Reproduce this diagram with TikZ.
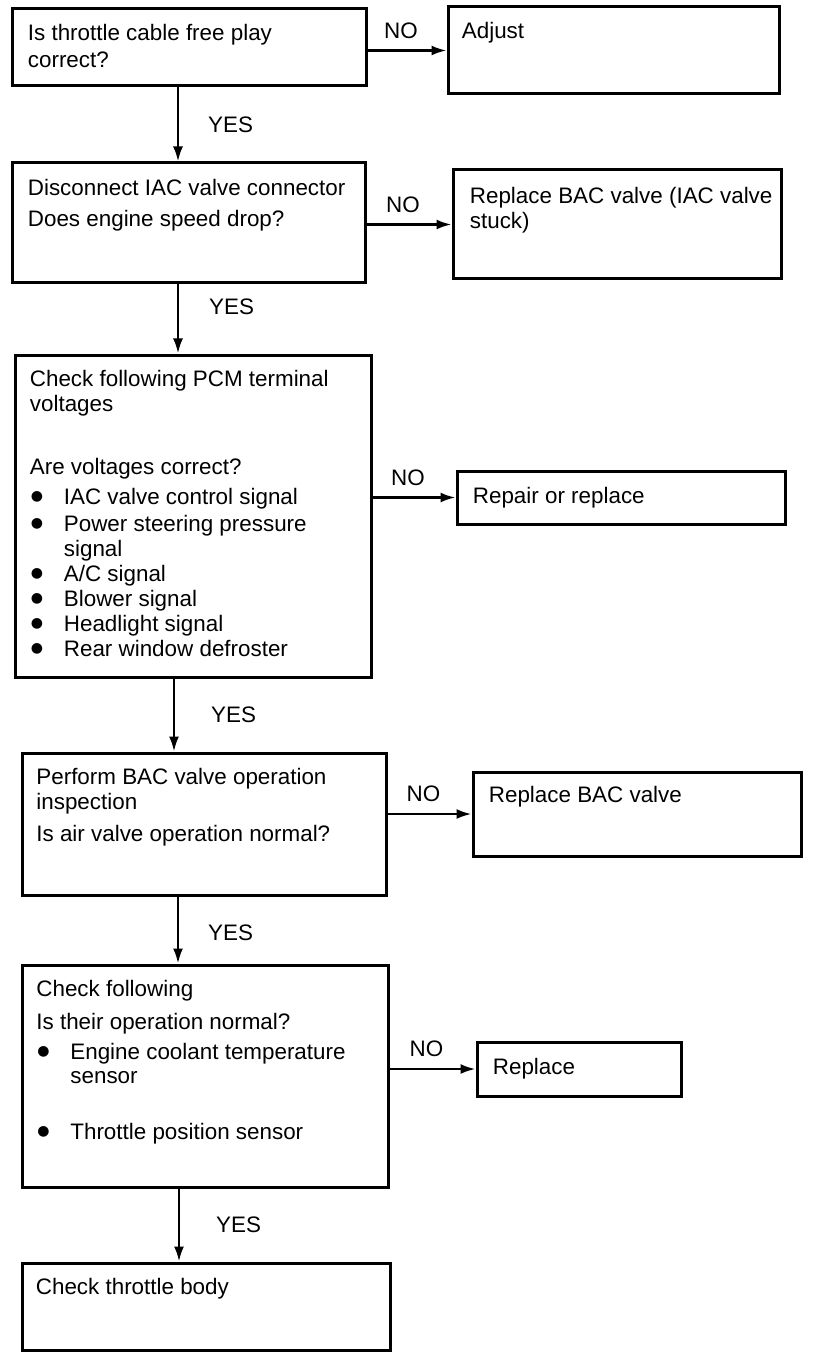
\documentclass[tikz,border=0pt]{standalone}
\usepackage{fontspec}
\setmainfont{Liberation Sans}
\newfontfamily\symfont{DejaVu Sans}
\usetikzlibrary{positioning,arrows.meta,fit}

\newcommand{\bul}{\hspace*{0.5pt}\makebox[16.5pt][l]{\raisebox{1.8pt}{\symfont\fontsize{7}{7}\selectfont ●}}}
\newcommand{\bulcont}{\hspace*{17pt}}

\begin{document}
\begin{tikzpicture}[
		x=0.5pt, y=-0.5pt,
		>={Latex[length=7.5pt,width=5pt]},
		every node/.style={
			font=\fontsize{11.2}{12.5}\selectfont,
			inner sep=0pt
		},
		box/.style={draw, line width=1.5pt},
		txt/.style={align=left},
		arr/.style={->, line width=1.2pt}
		]
		
		\useasboundingbox (0,0) rectangle (816,1358);
		
		%--------------------------------------------------
		% Check steps (left column)
		%--------------------------------------------------
		
		\node[box, fit={(12,9) (366,86)}] (q1) {};
		\node[box, fit={(12,163) (365,283)}] (q2) {};
		\node[box, fit={(15,355) (371,677)}] (q3) {};
		\node[box, fit={(22,753) (386,895)}] (q4) {};
		\node[box, fit={(22,965) (388,1187)}] (q5) {};
		\node[box, fit={(22,1263) (390,1350)}] (q6) {};
		
		%--------------------------------------------------
		% Remedies (right column)
		%--------------------------------------------------
		
		\node[box, fit={(448,7) (779,94)}] (r1) {};
		\node[box, fit={(453,170) (781,279)}] (r2) {};
		\node[box, fit={(457,471) (785,524)}] (r3) {};
		\node[box, fit={(473,772) (801,856)}] (r4) {};
		\node[box, fit={(477,1042) (681,1096)}] (r5) {};
		
		%--------------------------------------------------
		% Texts
		%--------------------------------------------------
		
		\node[txt, below right=8pt and 8.5pt of q1.north west] (q1t)
		{Is throttle cable free play\\[1pt] correct?};
		\node[txt, below right=8.5pt and 8.5pt of q2.north west] (q2t)
		{Disconnect IAC valve connector\\[3pt] Does engine speed drop?};
		\node[txt, below right=8pt and 8pt of q3.north west] (q3t)
		{Check following PCM terminal\\
			voltages\\[19pt]
			Are voltages correct?\\[2.5pt]
			\bul IAC valve control signal\\[1pt]
			\bul Power steering pressure\\
			\bulcont signal\\
			\bul A/C signal\\
			\bul Blower signal\\
			\bul Headlight signal\\
			\bul Rear window defroster};
		\node[txt, below right=8pt and 7.75pt of q4.north west] (q4t)
		{Perform BAC valve operation\\
			inspection\\[3.5pt]
			Is air valve operation normal?};
		\node[txt, below right=8pt and 7.75pt of q5.north west] (q5t)
		{Check following\\[4pt]
			Is their operation normal?\\[2.5pt]
			\bul Engine coolant temperature\\[-0.5pt]
			\bulcont sensor\\[15.5pt]
			\bul Throttle position sensor};
		\node[txt, below right=8pt and 7.5pt of q6.north west] (q6t)
		{Check throttle body};
		
		\node[txt, below right=8pt and 7.5pt of r1.north west] (r1t) {Adjust};
		\node[txt, below right=9pt and 9pt of r2.north west] (r2t)
		{Replace BAC valve (IAC valve\\ stuck)};
		\node[txt, below right=8.5pt and 8.5pt of r3.north west] (r3t) {Repair or replace};
		\node[txt, below right=7.5pt and 8.5pt of r4.north west] (r4t) {Replace BAC valve};
		\node[txt, below right=8.5pt and 8.5pt of r5.north west] (r5t) {Replace};
		
		%--------------------------------------------------
		% YES arrows
		%--------------------------------------------------
		
		\draw[arr] ([xshift=-5.5pt]q1.south) -- ([xshift=-5.5pt]q1.south |- q2.north)
		node[midway, right=14.5pt] {YES};
		\draw[arr] ([xshift=-5.25pt]q2.south) -- ([xshift=-5.25pt]q2.south |- q3.north)
		node[midway, right=15pt, yshift=6pt] {YES};
		\draw[arr] ([xshift=-9.5pt]q3.south) -- ([xshift=-9.5pt]q3.south |- q4.north)
		node[midway, right=18pt] {YES};
		\draw[arr] ([xshift=-13pt]q4.south) -- ([xshift=-13pt]q4.south |- q5.north)
		node[midway, right=14.5pt, yshift=-1.5pt] {YES};
		\draw[arr] ([xshift=-13pt]q5.south) -- ([xshift=-13pt]q5.south |- q6.north)
		node[midway, right=18pt] {YES};
		
		%--------------------------------------------------
		% NO arrows
		%--------------------------------------------------
		
		\foreach \q/\r in {q1/r1,q2/r2,q3/r3,q4/r4,q5/r5}
		{
			\draw[arr] (\r.west -| \q.east) -- (\r.west)
			node[midway, above=5.5pt, xshift=-3pt] {NO};
		}
		
	\end{tikzpicture}
\end{document}
